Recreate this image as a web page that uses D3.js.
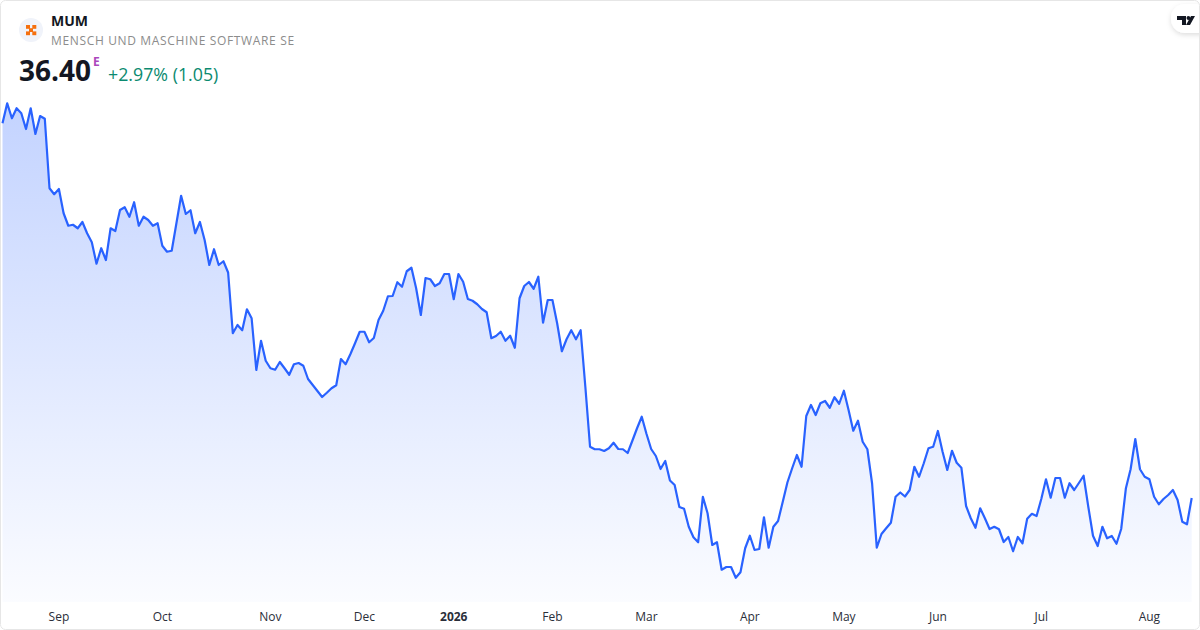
<!DOCTYPE html>
<html>
<head>
<meta charset="utf-8">
<title>MUM</title>
<script src="https://cdn.jsdelivr.net/npm/d3@7/dist/d3.min.js"></script>
<style>
  html, body { margin: 0; padding: 0; background: #fff; }
  svg { display: block; font-family: "Open Sans", sans-serif; }
  .tick line, .domain { display: none; }
</style>
</head>
<body>
<div id="chart"></div>
<script>
const width = 1200
const height = 630

const symbol = 'MUM'
const company = 'MENSCH UND MASCHINE SOFTWARE SE'
const lastPrice = '36.40'
const change = '+2.97% (1.05)'

// daily closes
const closes = [
  51.39, 52.19, 51.59, 51.99, 51.79, 51.16, 51.99, 50.96, 51.68, 51.57,
  48.79, 48.55, 48.76, 47.79, 47.29, 47.33, 47.19, 47.44, 46.99, 46.63,
  45.77, 46.39, 45.92, 47.19, 47.08, 47.92, 48.03, 47.65, 48.23, 47.29,
  47.65, 47.52, 47.29, 47.39, 46.49, 46.25, 46.29, 47.39, 48.49, 47.76,
  47.91, 46.99, 47.44, 46.72, 45.72, 46.35, 45.72, 45.87, 45.42, 42.99,
  43.32, 43.11, 43.95, 43.59, 41.52, 42.69, 41.89, 41.59, 41.53, 41.84,
  41.59, 41.33, 41.75, 41.80, 41.69, 41.16, 40.92, 40.68, 40.44, 40.61,
  40.79, 40.91, 41.96, 41.75, 42.15, 42.59, 43.05, 43.05, 42.63, 42.80,
  43.52, 43.89, 44.47, 44.48, 45.03, 44.85, 45.47, 45.61, 44.79, 43.72,
  45.20, 45.15, 44.88, 44.99, 45.36, 45.36, 44.35, 45.36, 45.05, 44.36,
  44.29, 44.15, 43.96, 43.83, 42.79, 42.88, 43.05, 42.69, 42.89, 42.41,
  44.39, 44.88, 45.04, 44.77, 45.25, 43.41, 44.32, 44.32, 43.39, 42.27,
  42.75, 43.11, 42.75, 43.11, 40.85, 38.45, 38.35, 38.35, 38.28, 38.39,
  38.61, 38.36, 38.35, 38.20, 38.69, 39.19, 39.65, 38.97, 38.36, 38.08,
  37.56, 37.88, 37.10, 36.92, 36.04, 35.97, 35.25, 34.83, 34.63, 36.45,
  35.79, 34.52, 34.63, 33.53, 33.64, 33.64, 33.21, 33.43, 34.39, 34.89,
  34.32, 34.36, 35.63, 34.41, 35.25, 35.48, 36.25, 37.03, 37.59, 38.12,
  37.65, 39.68, 40.12, 39.72, 40.19, 40.28, 40.01, 40.43, 40.17, 40.69,
  39.92, 39.09, 39.49, 38.65, 38.35, 36.99, 34.41, 34.96, 35.19, 35.41,
  36.45, 36.62, 36.46, 36.72, 37.65, 37.25, 37.79, 38.39, 38.45, 39.08,
  38.25, 37.52, 38.29, 37.81, 37.61, 36.08, 35.59, 35.21, 35.99, 35.59,
  35.16, 35.25, 35.15, 34.64, 34.84, 34.27, 34.84, 34.59, 35.57, 35.77,
  35.68, 36.36, 37.15, 36.41, 37.20, 37.20, 36.41, 36.99, 36.72, 37.00,
  37.29, 36.05, 34.89, 34.48, 35.25, 34.79, 34.88, 34.57, 35.16, 36.79,
  37.55, 38.76, 37.55, 37.25, 37.15, 36.45, 36.15, 36.36, 36.52, 36.72,
  36.32, 35.45, 35.35, 36.40
]

const tickBars = [12, 34, 57, 77, 96, 117, 137, 159, 179, 199, 221, 244]
const tickLabels = ['Sep', 'Oct', 'Nov', 'Dec', '2026', 'Feb', 'Mar', 'Apr', 'May', 'Jun', 'Jul', 'Aug']

const x = d3.scaleLinear().domain([0, closes.length - 1]).range([2.5, 1191.7])
const y = d3.scaleLinear().domain([56.32, 32.32]).range([0, 600])

const svg = d3.select('#chart').append('svg')
  .attr('width', width)
  .attr('height', height)

const defs = svg.append('defs')

const grad = defs.append('linearGradient')
  .attr('id', 'fade')
  .attr('gradientUnits', 'userSpaceOnUse')
  .attr('x1', 0).attr('x2', 0)
  .attr('y1', y(d3.max(closes))).attr('y2', 602)
grad.append('stop').attr('offset', 0).attr('stop-color', '#2962ff').attr('stop-opacity', 0.28)
grad.append('stop').attr('offset', 1).attr('stop-color', '#2962ff').attr('stop-opacity', 0.02)

const shadow = defs.append('filter')
  .attr('id', 'pill-shadow')
  .attr('x', '-30%').attr('y', '-50%').attr('width', '160%').attr('height', '220%')
shadow.append('feDropShadow')
  .attr('dx', 0).attr('dy', 2).attr('stdDeviation', 2.5)
  .attr('flood-color', '#000').attr('flood-opacity', 0.13)

const clip = defs.append('clipPath').attr('id', 'card')
clip.append('rect').attr('x', 0.5).attr('y', 0.5).attr('width', 1199).attr('height', 629).attr('rx', 5)

const area = d3.area()
  .x((d, i) => x(i))
  .y0(602)
  .y1(d => y(d))

const line = d3.line()
  .x((d, i) => x(i))
  .y(d => y(d))

svg.append('path')
  .datum(closes)
  .attr('d', area)
  .attr('fill', 'url(#fade)')

svg.append('path')
  .datum(closes)
  .attr('d', line)
  .attr('fill', 'none')
  .attr('stroke', '#2962ff')
  .attr('stroke-width', 2.2)
  .attr('stroke-linejoin', 'round')

// month axis
const axis = d3.axisBottom(x)
  .tickValues(tickBars)
  .tickSize(0)
  .tickPadding(0)
  .tickFormat((d, i) => tickLabels[i])

const axisG = svg.append('g')
  .attr('transform', 'translate(-0.5, 612)')
  .call(axis)

axisG.selectAll('text')
  .attr('font-family', '"Open Sans", sans-serif')
  .attr('font-size', '12px')
  .attr('fill', '#2a2e39')
  .attr('font-weight', (d, i) => tickLabels[i] === '2026' ? 700 : 400)

// header
svg.append('circle')
  .attr('cx', 31).attr('cy', 30).attr('r', 12)
  .attr('fill', '#f0f3fa')

const logo = svg.append('g').attr('fill', '#f5700f')
logo.selectAll('rect')
  .data([[26, 25], [32.3, 25], [29, 28.2], [26, 31.4], [32.3, 31.4]])
  .enter()
  .append('rect')
  .attr('x', d => d[0])
  .attr('y', d => d[1])
  .attr('width', 4)
  .attr('height', 3.8)

svg.append('text')
  .text(symbol)
  .attr('x', 51).attr('y', 26)
  .attr('font-size', '14px')
  .attr('font-weight', 700)
  .attr('fill', '#131722')

svg.append('text')
  .text(company)
  .attr('x', 51).attr('y', 45)
  .attr('font-size', '12px')
  .attr('letter-spacing', '0.65px')
  .attr('fill', '#8c8c8c')

svg.append('text')
  .text(lastPrice)
  .attr('x', 19).attr('y', 81)
  .attr('font-size', '28px')
  .attr('font-weight', 700)
  .attr('fill', '#131722')

svg.append('text')
  .text('E')
  .attr('x', 93).attr('y', 66)
  .attr('font-size', '12px')
  .attr('font-weight', 700)
  .attr('fill', '#ab47bc')

svg.append('text')
  .text(change)
  .attr('x', 108).attr('y', 81)
  .attr('font-size', '17.8px')
  .attr('fill', '#0b8a70')

// tradingview badge in the corner
const badge = svg.append('g').attr('clip-path', 'url(#card)')
badge.append('rect')
  .attr('x', 1171).attr('y', 4)
  .attr('width', 50).attr('height', 29)
  .attr('rx', 14)
  .attr('fill', '#fff')
  .attr('filter', 'url(#pill-shadow)')

badge.append('path')
  .attr('d', 'M1177 16h9v9h-4v-5h-5z M1195 16l-5 9h-4l5-9z')
  .attr('fill', '#131722')
badge.append('circle')
  .attr('cx', 1188.4).attr('cy', 18).attr('r', 1.9)
  .attr('fill', '#131722')

// card border
svg.append('rect')
  .attr('x', 0.5).attr('y', 0.5)
  .attr('width', 1199).attr('height', 629)
  .attr('rx', 5)
  .attr('fill', 'none')
  .attr('stroke', '#e6e6e6')
</script>
</body>
</html>
